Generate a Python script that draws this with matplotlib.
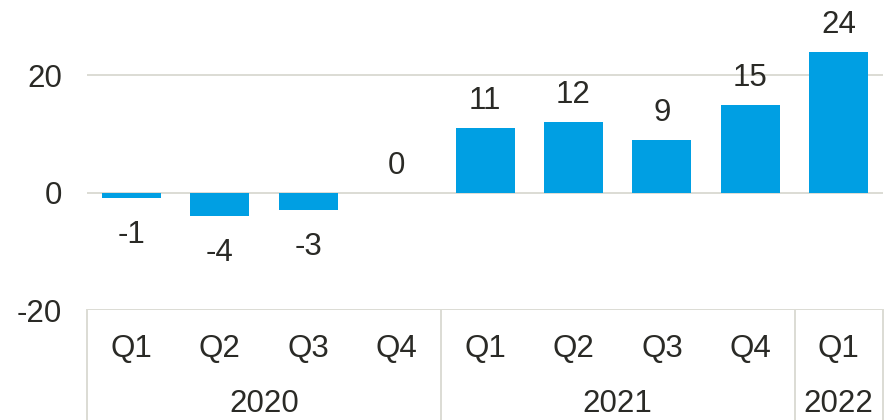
import matplotlib
matplotlib.use("Agg")
import matplotlib.pyplot as plt
import matplotlib.transforms as transforms

plt.rcParams['font.family'] = ['Liberation Sans', 'DejaVu Sans']

quarters = ['Q1', 'Q2', 'Q3', 'Q4', 'Q1', 'Q2', 'Q3', 'Q4', 'Q1']
years = ['2020', '2021', '2022']
year_counts = [4, 4, 1]
values = [-1, -4, -3, 0, 11, 12, 9, 15, 24]

bar_color = '#009FE3'
grid_color = '#dcdcd4'
text_color = '#2a2a26'
fs = 22.5

fig = plt.figure(figsize=(8.87, 4.2), dpi=100)
ax = fig.add_axes([0.0981, 0.2619, 0.8974, 0.7381])

x = list(range(len(values)))
ax.bar(x, values, width=0.667, color=bar_color, zorder=3)

ax.set_xlim(-0.5, len(values) - 0.5)
ax.set_ylim(-20, 32.8)
ax.set_yticks([-20, 0, 20])
ax.set_yticklabels(['-20', '0', '20'])
ax.set_xticks([])
ax.tick_params(axis='y', length=0, pad=18, labelsize=fs, labelcolor=text_color)
for s in ax.spines.values():
    s.set_visible(False)
ax.yaxis.grid(True, color=grid_color, linewidth=1.4, zorder=1)

# value labels
for xi, v in zip(x, values):
    if v >= 0:
        ax.annotate(str(v), (xi, v), xytext=(0, 13.5), textcoords='offset points',
                    ha='center', va='baseline', fontsize=fs, color=text_color)
    else:
        ax.annotate(str(v), (xi, v), xytext=(0, -32), textcoords='offset points',
                    ha='center', va='baseline', fontsize=fs, color=text_color)

# multi-level category axis
trans = transforms.blended_transform_factory(ax.transData, fig.transFigure)
q_y = 1 - 349 / 420
yr_y = 1 - 404 / 420
for xi, q in zip(x, quarters):
    ax.text(xi, q_y, q, transform=trans, ha='center', va='center',
            fontsize=fs, color=text_color)

edges = [-0.5]
for c in year_counts:
    edges.append(edges[-1] + c)
for i, yr in enumerate(years):
    mid = (edges[i] + edges[i + 1]) / 2
    ax.text(mid, yr_y, yr, transform=trans, ha='center', va='center',
            fontsize=fs, color=text_color)
for e in edges:
    ax.plot([e, e], [0.2619, 0.0], transform=trans, color=grid_color,
            linewidth=1.4, clip_on=False)

fig.savefig('out.png', dpi=100)
